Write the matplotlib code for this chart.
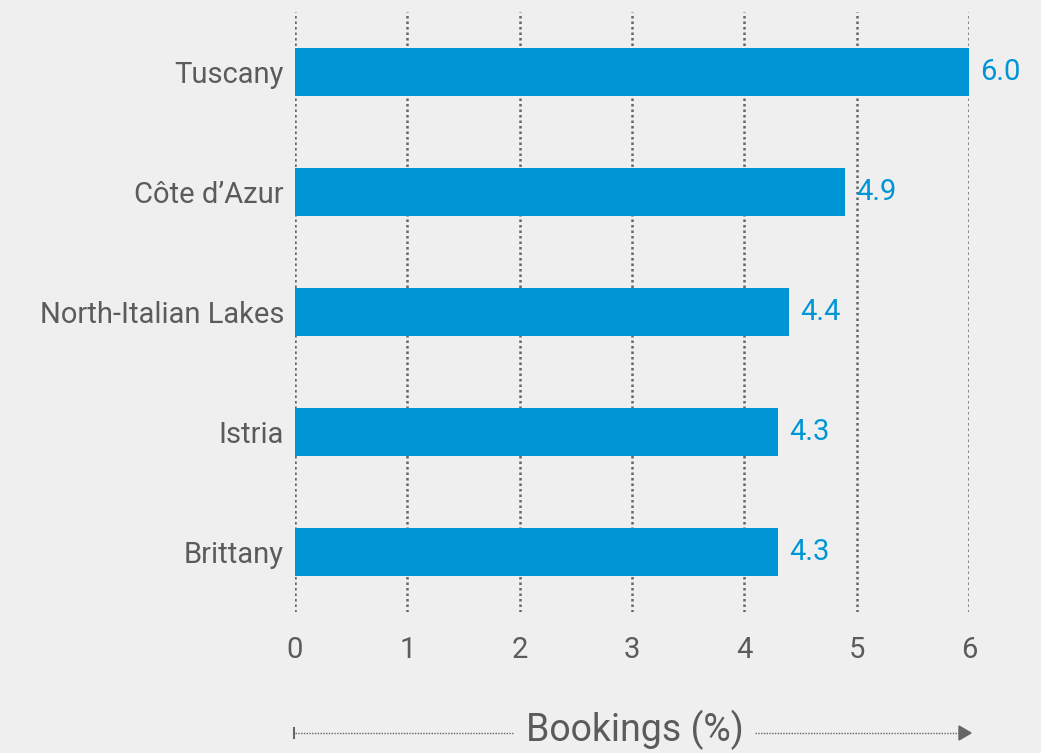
import matplotlib
matplotlib.use("Agg")
import matplotlib.pyplot as plt

categories = ["Tuscany", "Côte d’Azur", "North-Italian Lakes", "Istria", "Brittany"]
values = [6.0, 4.9, 4.4, 4.3, 4.3]
xticks = [0, 1, 2, 3, 4, 5, 6]
xlabel = "Bookings (%)"

BG = "#efefef"
BAR = "#0096d6"
TXT = "#5b5b5b"
GRID = "#666666"

plt.rcParams['font.family'] = ['Roboto', 'DejaVu Sans']

W, H = 1041, 753
fig = plt.figure(figsize=(W / 100, H / 100), dpi=100, facecolor=BG)
ax = fig.add_axes([295 / W, 1 - 612 / H, (969 - 295) / W, 600 / H])
ax.set_facecolor(BG)

ypos = list(range(len(categories)))
ax.barh(ypos, values, height=0.4, color=BAR, zorder=3)
ax.set_xlim(0, 6)
ax.set_ylim(len(categories) - 0.5, -0.5)

for x in xticks:
    ax.axvline(x, color=GRID, linestyle=(0, (1, 1.2)), linewidth=1.8, zorder=1)

for y, v in zip(ypos, values):
    ax.text(v + 0.1, y, f"{v:.1f}", va="center", ha="left", color=BAR,
            fontsize=21, clip_on=False)

ax.set_yticks(ypos)
ax.set_yticklabels(categories, fontsize=21, color=TXT)
ax.set_xticks(xticks)
ax.set_xticklabels([str(t) for t in xticks], fontsize=21, color=TXT)
ax.tick_params(axis="both", length=0)
ax.tick_params(axis="x", pad=17)
ax.tick_params(axis="y", pad=8)
for s in ax.spines.values():
    s.set_visible(False)

# axis title with arrow line
fig.text(635 / W, 1 - 730 / H, xlabel, ha="center", va="center", fontsize=27, color=TXT)
ly = 1 - 733 / H
fig.add_artist(plt.Line2D([295 / W, 513 / W], [ly, ly], color=GRID, linestyle=(0, (1, 1)), linewidth=1))
fig.add_artist(plt.Line2D([755 / W, 962 / W], [ly, ly], color=GRID, linestyle=(0, (1, 1)), linewidth=1))
fig.add_artist(plt.Line2D([294 / W, 294 / W], [ly - 5 / H, ly + 5 / H], color=GRID, linewidth=1.5))
fig.add_artist(plt.Polygon([[959 / W, ly + 7 / H], [959 / W, ly - 7 / H], [971 / W, ly]],
                           closed=True, color=GRID, transform=fig.transFigure))

fig.savefig("out.png", dpi=100, facecolor=BG)
